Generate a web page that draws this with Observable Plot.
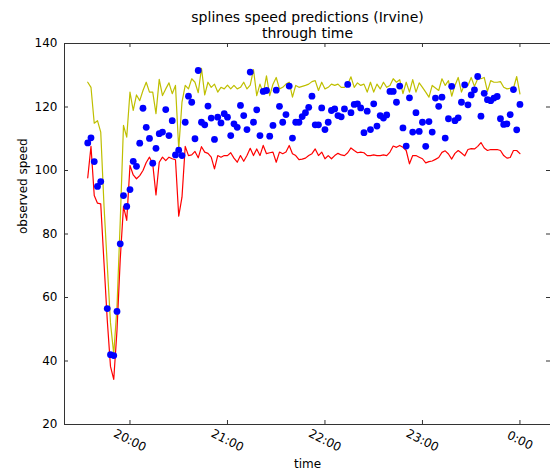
<!DOCTYPE html>
<html><head><meta charset="utf-8">
<script src="https://cdn.jsdelivr.net/npm/d3@7"></script>
<script src="https://cdn.jsdelivr.net/npm/@observablehq/plot@0.6"></script>
<style>html,body{margin:0;padding:0;background:#fff;} #chart svg{display:block;}</style>
</head><body><div id="chart"></div>
<script>
// Observation times (every 2 minutes, 19:34 -> 0:00)
const times = [
"19:34","19:36","19:38","19:40","19:42","19:44","19:46","19:48","19:50","19:52","19:54","19:56","19:58",
"20:00","20:02","20:04","20:06","20:08","20:10","20:12","20:14","20:16","20:18","20:20","20:22","20:24","20:26","20:28","20:30","20:32","20:34","20:36","20:38","20:40","20:42","20:44","20:46","20:48","20:50","20:52","20:54","20:56","20:58",
"21:00","21:02","21:04","21:06","21:08","21:10","21:12","21:14","21:16","21:18","21:20","21:22","21:24","21:26","21:28","21:30","21:32","21:34","21:36","21:38","21:40","21:42","21:44","21:46","21:48","21:50","21:52","21:54","21:56","21:58",
"22:00","22:02","22:04","22:06","22:08","22:10","22:12","22:14","22:16","22:18","22:20","22:22","22:24","22:26","22:28","22:30","22:32","22:34","22:36","22:38","22:40","22:42","22:44","22:46","22:48","22:50","22:52","22:54","22:56","22:58",
"23:00","23:02","23:04","23:06","23:08","23:10","23:12","23:14","23:16","23:18","23:20","23:22","23:24","23:26","23:28","23:30","23:32","23:34","23:36","23:38","23:40","23:42","23:44","23:46","23:48","23:50","23:52","23:54","23:56","23:58",
"0:00"];

// observed speed (blue dots); null = no observation
const observedSpeed = [
108.7,110.3,102.8,95.0,96.5,null,56.5,42.0,41.7,55.6,
76.9,92.1,88.7,94.0,102.9,101.3,108.6,119.6,113.6,110.1,
102.3,107.0,111.6,112.1,119.2,111.0,115.7,104.9,106.4,104.7,
115.2,123.4,121.5,110.0,131.5,115.2,114.4,120.3,116.5,109.8,
116.8,115.0,117.9,116.8,111.0,114.7,113.6,120.5,117.3,112.9,
131.0,115.2,119.1,111.0,124.9,125.2,110.8,114.2,125.3,120.2,
115.2,117.6,126.6,110.2,115.2,115.2,117.0,118.2,119.9,123.4,
114.4,114.4,119.7,112.9,115.2,118.9,119.4,117.3,116.9,119.4,
127.1,118.2,120.8,121.0,119.7,111.9,118.7,112.9,121.0,114.0,
117.3,116.5,117.5,124.9,124.9,121.5,126.6,113.4,107.7,122.9,
112.1,118.2,112.3,115.2,107.6,115.4,112.1,122.8,120.2,123.1,
110.2,116.3,126.5,115.7,116.6,121.5,127.0,120.7,123.8,125.4,
129.6,117.1,124.3,122.3,122.0,122.8,123.3,116.3,114.5,114.7,
117.6,125.5,112.8,120.8];

// lower spline prediction (red)
const lowerPrediction = [
97.7,107.6,92.1,89.7,89.5,71,53,38.3,34.2,49.6,
72,88.7,84.3,101.6,98.6,97.4,98.4,100,102.5,104.2,
102.1,92.3,102.6,104.2,103.1,104.2,103.7,103.4,85.6,91.6,
107.6,104.7,104.9,106.0,104.0,107.5,105.8,105.4,104.2,100.5,
104.7,104.2,104.7,104.7,105.6,103.9,102.6,104.7,102.9,104.7,
107.0,104.7,106.8,104.7,107.9,105.3,105.6,105.8,102.6,105.8,
105.3,105.8,107.9,105.3,104.7,103.4,103.6,103.9,104.7,105.3,
106.8,104.7,105.8,103.7,104.7,103.7,104.7,105.4,104.9,104.7,
105.6,107.1,106.3,105.6,105.8,105.6,104.7,104.7,104.9,104.7,
104.7,104.9,104.7,105.8,107.7,107.3,107.9,107.3,106.3,102.1,
104.7,104.7,104.2,103.7,102.4,102.8,103.0,103.5,104.1,105.7,
106.2,105.2,103.6,105.4,106.3,105.5,104.6,106.6,106.9,106.8,
107.6,108.8,107.1,106.3,106.6,106.6,106.6,106.3,104.7,103.9,
104.1,106.3,106.3,105.3];

// upper spline prediction (yellow)
const upperPrediction = [
127.8,126.2,114.9,115.7,112.1,89,70.4,52,42.2,57,
84,114.2,110.5,124.7,118.9,123.8,122,125.2,127.8,124.7,
124.7,117.9,128.7,123.6,125.7,127.6,124.2,126.8,106.8,121.5,
126.8,125.7,128.9,127.8,124.5,132.2,123.8,127.8,126.2,127.2,
124.7,126.2,125.7,126.9,125.7,126.8,125.7,126.2,127.8,125.7,
126.9,131.8,123.6,127.2,124.2,129.8,123.6,127.2,129.3,125.7,
126.2,127.2,127.8,123.1,126.8,126.2,126.5,126.8,127.2,128.0,
128.3,125.2,127.8,125.7,126.2,127.2,126.8,127.2,126.2,126.2,
127.2,129.5,126.2,127.6,126.8,127.2,124.7,127.8,124.7,127.2,
125.7,127.8,126.2,126.8,128.9,127.8,128.6,124.2,127.8,124.7,
128.6,124.7,127.6,126.2,124.7,123.1,126.8,126.0,125.2,128.9,
126.8,128.3,123.4,126.8,129.3,124.7,127.2,126.8,129.3,126.5,
128.9,128.9,129.3,124.9,128.3,127.8,127.8,128.0,126.2,125.7,
125.9,125.9,129.6,124.1];

const xTickLabels = ["20:00","21:00","22:00","23:00","0:00"];
const yTicks = [20,40,60,80,100,120,140];
const xDomain = ["19:19:42","0:18:48"];
const titleLines = ["splines speed predictions (Irvine)","through time"];
const xLabel = "time";
const yLabel = "observed speed";

function toDate(s){
  const [h,m,sec=0] = s.split(":").map(Number);
  const day = h < 12 ? 2 : 1;
  return new Date(Date.UTC(2013,0,day,h,m,sec));
}
const rows = times.map((t,i)=>({time: toDate(t), speed: observedSpeed[i], lower: lowerPrediction[i], upper: upperPrediction[i]}));
const xTicks = xTickLabels.map(toDate);

const W = 550, H = 473, mt = 43, mb = 49, ml = 64, mr = 0;
const fh = H - mt - mb, fw = W - ml - mr;
const font = "'DejaVu Sans', sans-serif";

const chart = Plot.plot({
  width: W, height: H,
  marginTop: mt, marginBottom: mb, marginLeft: ml, marginRight: mr,
  style: {fontFamily: font, fontSize: "12px", background: "white", color: "black", overflow: "visible"},
  x: {type: "utc", domain: xDomain.map(toDate), axis: null},
  y: {domain: [20, 140]},
  marks: [
    Plot.line(rows, {x: "time", y: "upper", stroke: "#bfbf00", strokeWidth: 1.2}),
    Plot.line(rows, {x: "time", y: "lower", stroke: "#ff0000", strokeWidth: 1.2}),
    Plot.dot(rows.filter(d => d.speed != null), {x: "time", y: "speed", r: 3.4, fill: "#0000ff", stroke: null}),
    Plot.frame({stroke: "#333", strokeWidth: 1}),
    Plot.tickX(xTicks, {x: d => d, insetTop: fh - 4, stroke: "#333"}),
    Plot.tickX(xTicks, {x: d => d, insetBottom: fh - 4, stroke: "#333"}),
    Plot.tickY(yTicks, {y: d => d, insetRight: fw - 4, stroke: "#333"}),
    Plot.tickY(yTicks, {y: d => d, insetLeft: fw - 4, stroke: "#333"}),
    Plot.axisY({ticks: yTicks, tickSize: 0, tickPadding: 7, label: null, fontSize: 12}),
    Plot.text(xTicks, {x: d => d, text: (d, i) => xTickLabels[i], frameAnchor: "bottom", dy: 16, rotate: 27, textAnchor: "middle", lineAnchor: "middle", fontSize: 12}),
    Plot.text([xLabel], {text: d => d, frameAnchor: "bottom", dy: 40, lineAnchor: "middle", fontSize: 12}),
    Plot.text([yLabel], {text: d => d, frameAnchor: "left", dx: -41, rotate: -90, lineAnchor: "middle", fontSize: 12}),
    Plot.text([titleLines[0]], {text: d => d, frameAnchor: "top", dy: -26, lineAnchor: "middle", fontSize: 14}),
    Plot.text([titleLines[1]], {text: d => d, frameAnchor: "top", dy: -10, lineAnchor: "middle", fontSize: 14})
  ]
});
document.getElementById("chart").append(chart);
</script>
</body></html>
